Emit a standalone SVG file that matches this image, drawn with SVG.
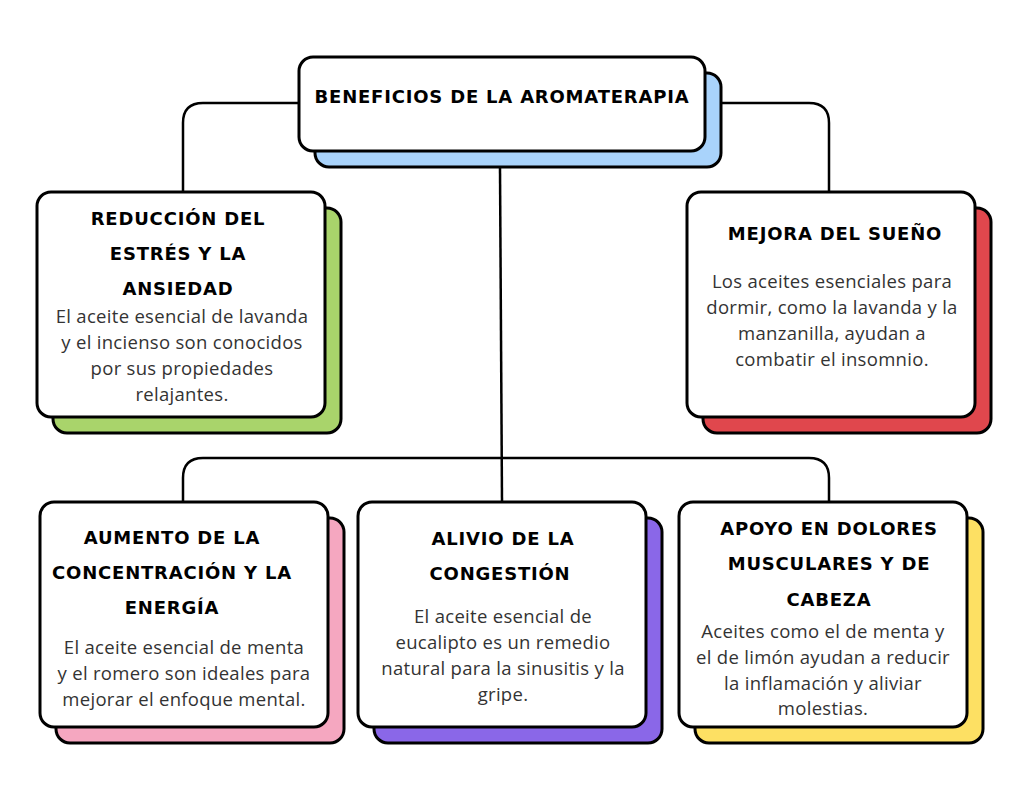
<svg xmlns="http://www.w3.org/2000/svg" width="1024" height="800" viewBox="0 0 1024 800">
<style>
.box{fill:#fff;stroke:#000;stroke-width:3}
.sh{stroke:#000;stroke-width:3}
.h{font-family:"DejaVu Sans",sans-serif;font-weight:bold;font-size:18px;letter-spacing:0.8px;text-anchor:middle;fill:#000}
.b{font-family:"Open Sans","Liberation Sans",sans-serif;font-size:18.5px;letter-spacing:0.3px;text-anchor:middle;fill:#333}
.c{fill:none;stroke:#000;stroke-width:2.5}
</style>
<rect width="1024" height="800" fill="#fff"/>
<g id="connectors">
<path class="c" d="M299,103 H203 Q183,103 183,123 V192"/>
<path class="c" d="M705,103 H809 Q829,103 829,123 V192"/>
<path class="c" d="M500,168 L502,502"/>
<path class="c" d="M183,502 V478 Q183,458 203,458 H809 Q829,458 829,478 V502"/>
</g>
<g id="title">
<rect class="sh" x="315" y="73" width="406" height="94" rx="14" fill="#a9d3fb"/>
<rect class="box" x="299" y="57" width="406" height="94" rx="14"/>
<text class="h" x="502" y="103">BENEFICIOS DE LA AROMATERAPIA</text>
</g>
<g id="n1">
<rect class="sh" x="53" y="208" width="288" height="225" rx="14" fill="#a9d46b"/>
<rect class="box" x="37" y="192" width="288" height="225" rx="14"/>
<text class="h" x="178" y="225">REDUCCIÓN DEL</text>
<text class="h" x="178" y="260">ESTRÉS Y LA</text>
<text class="h" x="178" y="295">ANSIEDAD</text>
<text class="b" x="182" y="323">El aceite esencial de lavanda</text>
<text class="b" x="182" y="349">y el incienso son conocidos</text>
<text class="b" x="182" y="375">por sus propiedades</text>
<text class="b" x="182" y="401">relajantes.</text>
</g>
<g id="n2">
<rect class="sh" x="703" y="208" width="288" height="225" rx="14" fill="#e0474d"/>
<rect class="box" x="687" y="192" width="288" height="225" rx="14"/>
<text class="h" x="835" y="240">MEJORA DEL SUEÑO</text>
<text class="b" x="832" y="288">Los aceites esenciales para</text>
<text class="b" x="832" y="314">dormir, como la lavanda y la</text>
<text class="b" x="832" y="340">manzanilla, ayudan a</text>
<text class="b" x="832" y="366">combatir el insomnio.</text>
</g>
<g id="n3">
<rect class="sh" x="56" y="518" width="288" height="225" rx="14" fill="#f5a7c0"/>
<rect class="box" x="40" y="502" width="288" height="225" rx="14"/>
<text class="h" x="172" y="544">AUMENTO DE LA</text>
<text class="h" x="172" y="579">CONCENTRACIÓN Y LA</text>
<text class="h" x="172" y="614">ENERGÍA</text>
<text class="b" x="184" y="654">El aceite esencial de menta</text>
<text class="b" x="184" y="680">y el romero son ideales para</text>
<text class="b" x="184" y="706">mejorar el enfoque mental.</text>
</g>
<g id="n4">
<rect class="sh" x="374" y="518" width="288" height="225" rx="14" fill="#8a67e8"/>
<rect class="box" x="358" y="502" width="288" height="225" rx="14"/>
<text class="h" x="503" y="545">ALIVIO DE LA</text>
<text class="h" x="500" y="580">CONGESTIÓN</text>
<text class="b" x="503" y="623">El aceite esencial de</text>
<text class="b" x="503" y="649">eucalipto es un remedio</text>
<text class="b" x="503" y="675">natural para la sinusitis y la</text>
<text class="b" x="503" y="701">gripe.</text>
</g>
<g id="n5">
<rect class="sh" x="695" y="518" width="288" height="225" rx="14" fill="#fde063"/>
<rect class="box" x="679" y="502" width="288" height="225" rx="14"/>
<text class="h" x="829" y="535">APOYO EN DOLORES</text>
<text class="h" x="829" y="570">MUSCULARES Y DE</text>
<text class="h" x="829" y="606">CABEZA</text>
<text class="b" x="823" y="638">Aceites como el de menta y</text>
<text class="b" x="823" y="664">el de limón ayudan a reducir</text>
<text class="b" x="823" y="690">la inflamación y aliviar</text>
<text class="b" x="823" y="715">molestias.</text>
</g>
</svg>
